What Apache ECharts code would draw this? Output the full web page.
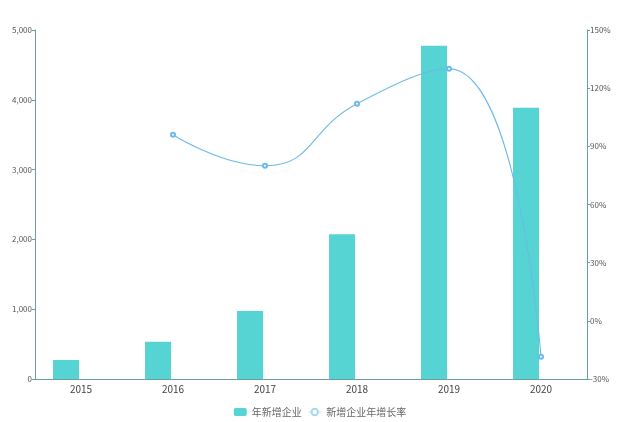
<!DOCTYPE html>
<html>
<head>
<meta charset="utf-8">
<script src="https://cdn.jsdelivr.net/npm/echarts@6/dist/echarts.min.js"></script>
<style>
html,body{margin:0;padding:0;background:#fff;}
#main{width:640px;height:422px;}
</style>
</head>
<body>
<div id="main"></div>
<script>
var years = ['2015', '2016', '2017', '2018', '2019', '2020'];
var newFirms = [272, 534, 974, 2073, 4775, 3887];
var growthRate = ['-', 96, 80, 112, 130, -18.5];
var placeholder = ['-', '-', '-', '-', '-', '-'];

var axisColor = '#6a9ea6';
var labelColor = '#555';

var myChart = echarts.init(document.getElementById('main'));
var option = {
    animation: false,
    textStyle: { fontFamily: '"Noto Sans CJK SC", "Open Sans", sans-serif' },
    grid: { left: 35, right: 53, top: 30, bottom: 43 },
    legend: {
        bottom: 0,
        left: 'center',
        itemWidth: 13,
        itemHeight: 8,
        itemGap: 6,
        textStyle: { color: '#666', fontSize: 10 },
        data: [
            { name: '年新增企业', icon: 'roundRect' },
            {
                name: '新增企业年增长率',
                itemStyle: { color: '#a8d6f2', borderColor: '#a8d6f2', borderWidth: 1 },
                lineStyle: { color: '#cfe8f8', width: 1 }
            }
        ]
    },
    xAxis: {
        type: 'category',
        data: years,
        axisLine: { lineStyle: { color: axisColor } },
        axisTick: { lineStyle: { color: axisColor } },
        axisLabel: { color: '#444', fontSize: 10, margin: 5 }
    },
    yAxis: [
        {
            type: 'value',
            min: 0, max: 5000, interval: 1000,
            splitLine: { show: false },
            axisLine: { show: true, lineStyle: { color: axisColor } },
            axisTick: { show: true, length: 3, lineStyle: { color: axisColor } },
            axisLabel: {
                color: labelColor, fontSize: 8, margin: 3,
                formatter: function (v) { return v.toLocaleString('en-US'); }
            }
        },
        {
            type: 'value',
            min: -30, max: 150, interval: 30,
            splitLine: { show: false },
            axisLine: { show: true, lineStyle: { color: axisColor } },
            axisTick: { show: true, length: 3, lineStyle: { color: axisColor } },
            axisLabel: { color: labelColor, fontSize: 8, margin: 3, formatter: '{value}%' }
        }
    ],
    series: [
        {
            name: '年新增企业',
            type: 'bar',
            data: newFirms,
            barWidth: 26,
            barGap: '15%',
            itemStyle: { color: '#56d3d3' }
        },
        {
            name: 'placeholder',
            type: 'bar',
            data: placeholder,
            barWidth: 26
        },
        {
            name: '新增企业年增长率',
            type: 'line',
            yAxisIndex: 1,
            data: growthRate,
            smooth: true,
            symbol: 'emptyCircle',
            symbolSize: 4,
            lineStyle: { color: '#6cb9ea', width: 1.1 },
            itemStyle: { color: '#6cb9ea', borderWidth: 0.8 }
        }
    ]
};
myChart.setOption(option);
</script>
</body>
</html>
